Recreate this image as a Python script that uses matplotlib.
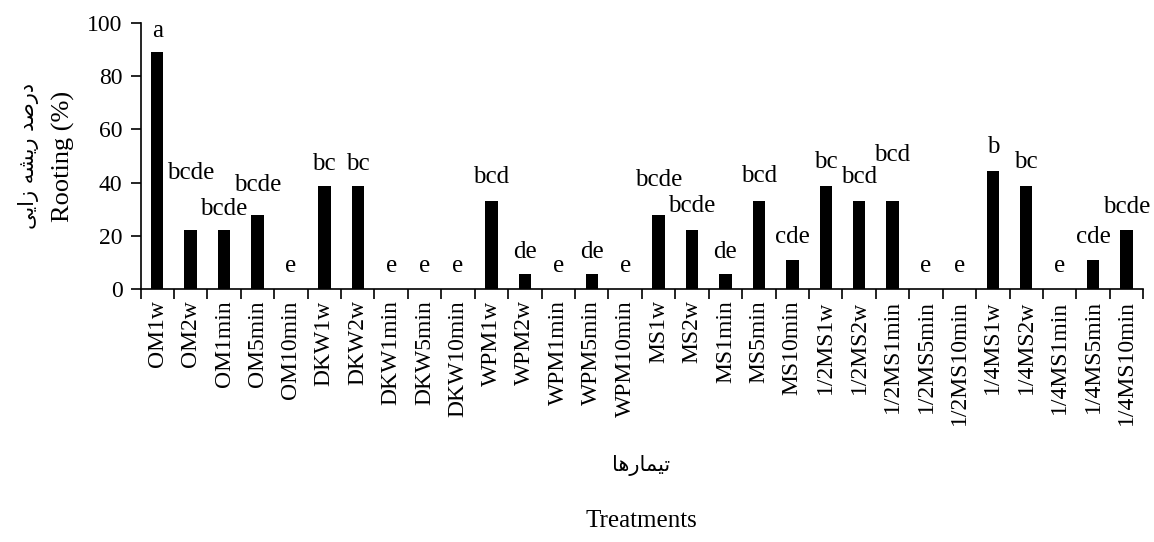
import matplotlib
matplotlib.use("Agg")
import matplotlib.pyplot as plt
import numpy as np

# ---------------- data ----------------
categories = ["OM1w", "OM2w", "OM1min", "OM5min", "OM10min",
              "DKW1w", "DKW2w", "DKW1min", "DKW5min", "DKW10min",
              "WPM1w", "WPM2w", "WPM1min", "WPM5min", "WPM10min",
              "MS1w", "MS2w", "MS1min", "MS5min", "MS10min",
              "1/2MS1w", "1/2MS2w", "1/2MS1min", "1/2MS5min", "1/2MS10min",
              "1/4MS1w", "1/4MS2w", "1/4MS1min", "1/4MS5min", "1/4MS10min"]
rooting = [88.9, 22.2, 22.2, 27.8, 0,
           38.9, 38.9, 0, 0, 0,
           33.3, 5.6, 0, 5.6, 0,
           27.8, 22.2, 5.6, 33.3, 11.1,
           38.9, 33.3, 33.3, 0, 0,
           44.4, 38.9, 0, 11.1, 22.2]
letters = ["a", "bcde", "bcde", "bcde", "e",
           "bc", "bc", "e", "e", "e",
           "bcd", "de", "e", "de", "e",
           "bcde", "bcde", "de", "bcd", "cde",
           "bc", "bcd", "bcd", "e", "e",
           "b", "bc", "e", "cde", "bcde"]
# vertical centre of each significance letter (data units)
letter_y = [97, 43.5, 30, 39, 8.8,
            47, 47, 8.8, 8.8, 8.8,
            42, 14, 8.8, 14, 8.8,
            41, 31.3, 14, 42.5, 19.8,
            47.8, 42, 50.4, 8.8, 8.8,
            53.4, 47.8, 8.8, 19.8, 31]
yticks = [0, 20, 40, 60, 80, 100]
ylabel_fa = "درصد ریشه زایی"
ylabel_en = "Rooting (%)"
xlabel_fa = "تیمارها"
xlabel_en = "Treatments"

# ---------------- minimal Persian shaping ----------------
FORMS = {  # isolated, final, initial, medial
    "ا": ("\uFE8D", "\uFE8E", None, None),
    "د": ("\uFEA9", "\uFEAA", None, None),
    "ر": ("\uFEAD", "\uFEAE", None, None),
    "ز": ("\uFEAF", "\uFEB0", None, None),
    "ص": ("\uFEB9", "\uFEBA", "\uFEBB", "\uFEBC"),
    "ش": ("\uFEB5", "\uFEB6", "\uFEB7", "\uFEB8"),
    "ه": ("\uFEE9", "\uFEEA", "\uFEEB", "\uFEEC"),
    "ی": ("\uFEEF", "\uFEF0", "\uFEF3", "\uFEF4"),
    "م": ("\uFEE1", "\uFEE2", "\uFEE3", "\uFEE4"),
    "ت": ("\uFE95", "\uFE96", "\uFE97", "\uFE98"),
}


def shape(text):
    out = []
    n = len(text)
    for i, ch in enumerate(text):
        if ch not in FORMS:
            out.append(ch)
            continue
        prev = text[i - 1] if i > 0 else None
        nxt = text[i + 1] if i < n - 1 else None
        jp = prev in FORMS and FORMS[prev][2] is not None
        jn = FORMS[ch][2] is not None and nxt in FORMS
        iso, fin, ini, med = FORMS[ch]
        if jp and jn:
            out.append(med)
        elif jp:
            out.append(fin)
        elif jn:
            out.append(ini)
        else:
            out.append(iso)
    return "".join(out)[::-1]


# ---------------- figure ----------------
W, H = 1154, 542
fig = plt.figure(figsize=(W / 100, H / 100), dpi=100)
ax = fig.add_axes([140.5 / W, 1 - 289.3 / H, (1143.3 - 140.5) / W, (289.3 - 22.7) / H])

serif = ["Liberation Serif", "DejaVu Serif"]
x = np.arange(len(categories))
ax.bar(x, rooting, width=0.37, color="black", zorder=3)

for xi, lab, ly in zip(x, letters, letter_y):
    ax.text(xi, ly, lab, ha="center", va="center", fontsize=18, family=serif)

ax.set_xlim(-0.5, len(categories) - 0.5)
ax.set_ylim(0, 100)
ax.set_yticks(yticks)
ax.set_yticklabels([str(v) for v in yticks], fontsize=17, family=serif)
ax.set_xticks(x)
ax.set_xticklabels(categories, rotation=90, fontsize=17, family=serif)
ax.tick_params(axis="x", length=0, pad=8)
ax.set_xticks(np.arange(len(categories) + 1) - 0.5, minor=True)
ax.tick_params(axis="x", which="minor", length=7, width=1.2, direction="out")
ax.tick_params(axis="y", length=7, width=1.2, direction="out", pad=6)

for s in ["top", "right"]:
    ax.spines[s].set_visible(False)
for s in ["left", "bottom"]:
    ax.spines[s].set_linewidth(1.2)

# axis titles
fig.text(29 / W, 1 - 156 / H, shape(ylabel_fa), rotation=90, ha="center", va="center",
         fontsize=15, family=["DejaVu Sans"])
fig.text(63 / W, 1 - 156 / H, ylabel_en, rotation=90, ha="center", va="center",
         fontsize=19, family=serif)
fig.text(641 / W, 1 - 466 / H, shape(xlabel_fa), ha="center", va="center",
         fontsize=15, family=["DejaVu Sans"])
fig.text(641 / W, 1 - 521 / H, xlabel_en, ha="center", va="center",
         fontsize=18, family=serif)

fig.savefig("out.png", dpi=100)
